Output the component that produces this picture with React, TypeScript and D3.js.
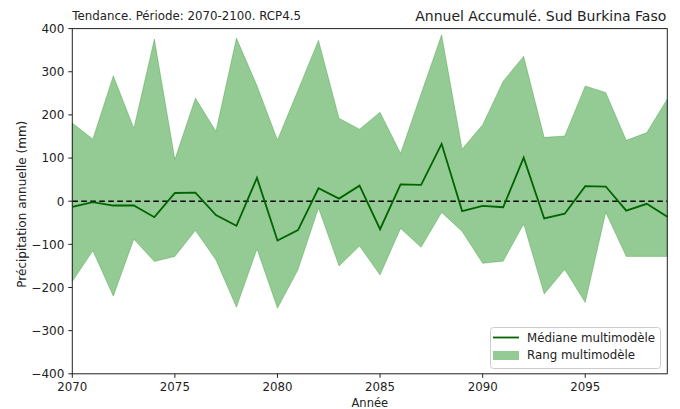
import React from "react";
import * as d3 from "d3";

const years: number[] = d3.range(2070, 2100);
const median: number[] = [-13, -2, -10, -10, -37, 19, 20, -32, -57, 54, -91, -67, 30, 6, 36, -65, 39, 38, 133, -23, -11, -14, 101, -40, -29, 35, 34, -22, -6, -36];
const upper: number[] = [181, 144, 291, 169, 376, 97, 239, 162, 378, 268, 142, 257, 373, 192, 167, 206, 111, 249, 386, 121, 177, 278, 336, 148, 151, 267, 252, 141, 159, 237];
const lower: number[] = [-186, -115, -220, -88, -140, -128, -68, -136, -246, -111, -248, -159, -16, -150, -104, -171, -63, -107, -26, -70, -144, -139, -53, -215, -158, -235, -26, -128, -128, -128];
const yTicks: number[] = [-400, -300, -200, -100, 0, 100, 200, 300, 400];
const xTicks: number[] = [2070, 2075, 2080, 2085, 2090, 2095];

const fmt = (t: number) => (t < 0 ? "\u2212" + Math.abs(t) : String(t));

export default function App() {
  const W = 680, H = 409;
  const x = d3.scaleLinear().domain([2070, 2099]).range([72.3, 667.3]);
  const y = d3.scaleLinear().domain([-400, 400]).range([373.8, 28.6]);
  const font = "DejaVu Sans, sans-serif";
  const area = d3.area<number>()
    .x((_, i) => x(years[i]))
    .y0((_, i) => y(lower[i]))
    .y1((_, i) => y(upper[i]));
  const line = d3.line<number>()
    .x((_, i) => x(years[i]))
    .y((d) => y(d));
  const [x0, x1] = x.range();
  const [yb, yt] = y.range();
  return (
    <svg width={W} height={H} style={{ position: "absolute", left: 0, top: 0 }}>
      <rect width={W} height={H} fill="#fff" />
      <path d={area(upper) ?? ""} fill="#008000" fillOpacity={0.42} stroke="#008000" strokeOpacity={0.25} strokeWidth={1} />
      <line x1={x0} x2={x1} y1={y(0)} y2={y(0)} stroke="#000" strokeWidth={1.5} strokeDasharray="5.5,3.5" />
      <path d={line(median) ?? ""} fill="none" stroke="#006400" strokeWidth={1.8} />
      <rect x={x0} y={yt} width={x1 - x0} height={yb - yt} fill="none" stroke="#222" strokeWidth={1} />
      {yTicks.map((t) => (
        <g key={t}>
          <line x1={x0 - 4} x2={x0} y1={y(t)} y2={y(t)} stroke="#222" />
          <text x={x0 - 8} y={y(t)} dy="0.36em" textAnchor="end" fontFamily={font} fontSize={12} fill="#222">{fmt(t)}</text>
        </g>
      ))}
      {xTicks.map((t) => (
        <g key={t}>
          <line x1={x(t)} x2={x(t)} y1={yb} y2={yb + 4} stroke="#222" />
          <text x={x(t)} y={yb + 17} textAnchor="middle" fontFamily={font} fontSize={11.8} fill="#222">{t}</text>
        </g>
      ))}
      <text x={(x0 + x1) / 2} y={407} textAnchor="middle" fontFamily={font} fontSize={11.5} fill="#222">Année</text>
      <text transform={`translate(26,${(yb + yt) / 2 + 3}) rotate(-90)`} textAnchor="middle" fontFamily={font} fontSize={12} fill="#222">Précipitation annuelle (mm)</text>
      <text x={x0} y={19.5} fontFamily={font} fontSize={11.8} fill="#222">Tendance. Période: 2070-2100. RCP4.5</text>
      <text x={x1 - 1} y={20.5} textAnchor="end" fontFamily={font} fontSize={14} fill="#222">Annuel Accumulé. Sud Burkina Faso</text>
      <g>
        <rect x={490.5} y={327.5} width={170} height={41} rx={3} fill="#fff" fillOpacity={0.8} stroke="#ccc" />
        <line x1={493} x2={519} y1={337.5} y2={337.5} stroke="#006400" strokeWidth={1.8} />
        <rect x={493} y={351} width={26} height={9} fill="#008000" fillOpacity={0.42} />
        <text x={527} y={337.5} dy="0.36em" fontFamily={font} fontSize={11.8} fill="#222">Médiane multimodèle</text>
        <text x={527} y={355} dy="0.36em" fontFamily={font} fontSize={11.8} fill="#222">Rang multimodèle</text>
      </g>
    </svg>
  );
}
